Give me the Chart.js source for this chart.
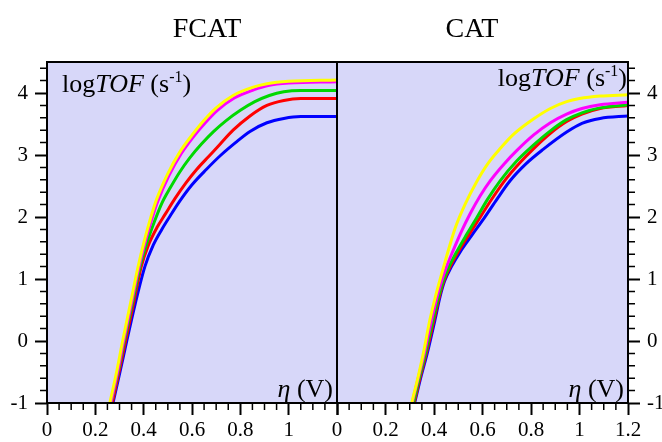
<!DOCTYPE html>
<html>
<head>
<meta charset="utf-8">
<script src="https://cdn.jsdelivr.net/npm/chart.js@4"></script>
<style>
  html, body { margin: 0; padding: 0; background: #fff; }
  #wrap { position: relative; width: 662px; height: 442px; overflow: hidden; }
  canvas { position: absolute; top: 0; }
</style>
</head>
<body>
<div id="wrap">
  <canvas id="fcat" width="380" height="442" style="left:0px"></canvas>
  <canvas id="cat" width="372" height="442" style="left:290px"></canvas>
</div>
<script>
// eta (V) vs log TOF (s^-1)
const fcatYellow  = [[0.26,-1],[0.288,-0.5],[0.313,0],[0.345,0.6],[0.377,1.2],[0.405,1.65],[0.43,2.0],[0.453,2.28],[0.50,2.7],[0.55,3.05],[0.60,3.32],[0.65,3.56],[0.70,3.76],[0.77,3.96],[0.85,4.09],[0.91,4.15],[1.0,4.19],[1.2,4.21]];
const fcatMagenta = [[0.264,-1],[0.292,-0.5],[0.317,0],[0.349,0.6],[0.381,1.2],[0.409,1.63],[0.435,1.98],[0.458,2.25],[0.505,2.67],[0.555,3.02],[0.605,3.29],[0.655,3.52],[0.705,3.72],[0.775,3.92],[0.855,4.05],[0.915,4.12],[1.0,4.16],[1.2,4.18]];
const fcatGreen   = [[0.265,-1],[0.294,-0.5],[0.32,0],[0.353,0.6],[0.385,1.2],[0.415,1.6],[0.445,1.93],[0.475,2.22],[0.51,2.47],[0.55,2.73],[0.59,2.95],[0.64,3.18],[0.69,3.38],[0.74,3.55],[0.80,3.72],[0.86,3.86],[0.92,3.96],[0.98,4.02],[1.05,4.04],[1.2,4.04]];
const fcatRed     = [[0.27,-1],[0.298,-0.5],[0.325,0],[0.358,0.6],[0.39,1.2],[0.42,1.55],[0.455,1.83],[0.49,2.05],[0.53,2.3],[0.575,2.55],[0.62,2.77],[0.67,2.98],[0.715,3.17],[0.77,3.4],[0.84,3.63],[0.91,3.8],[0.98,3.88],[1.05,3.91],[1.2,3.91]];
const fcatBlue    = [[0.273,-1],[0.302,-0.5],[0.33,0],[0.365,0.6],[0.405,1.2],[0.44,1.55],[0.475,1.8],[0.51,2.02],[0.55,2.26],[0.60,2.52],[0.66,2.77],[0.72,3.0],[0.78,3.2],[0.84,3.38],[0.91,3.52],[0.98,3.59],[1.05,3.62],[1.2,3.62]];

const catYellow  = [[0.308,-1],[0.335,-0.57],[0.356,-0.2],[0.383,0.34],[0.405,0.7],[0.422,0.95],[0.44,1.2],[0.462,1.5],[0.49,1.85],[0.53,2.22],[0.576,2.57],[0.62,2.85],[0.672,3.1],[0.73,3.34],[0.81,3.58],[0.88,3.75],[0.947,3.86],[1.0,3.91],[1.085,3.95],[1.2,3.97]];
const catMagenta = [[0.31,-1],[0.338,-0.55],[0.36,-0.2],[0.39,0.34],[0.412,0.7],[0.43,0.95],[0.452,1.2],[0.478,1.45],[0.51,1.74],[0.55,2.06],[0.59,2.34],[0.631,2.58],[0.69,2.86],[0.741,3.07],[0.81,3.32],[0.88,3.52],[0.947,3.66],[1.01,3.75],[1.085,3.81],[1.2,3.85]];
const catGreen   = [[0.315,-1],[0.342,-0.55],[0.365,-0.2],[0.396,0.34],[0.418,0.7],[0.438,0.97],[0.462,1.2],[0.495,1.45],[0.535,1.72],[0.575,1.98],[0.62,2.28],[0.672,2.58],[0.74,2.9],[0.81,3.16],[0.88,3.39],[0.947,3.57],[1.01,3.68],[1.085,3.76],[1.2,3.81]];
const catRed     = [[0.318,-1],[0.345,-0.55],[0.368,-0.2],[0.4,0.34],[0.421,0.7],[0.441,0.97],[0.467,1.2],[0.502,1.45],[0.545,1.72],[0.588,1.98],[0.635,2.27],[0.69,2.58],[0.755,2.88],[0.81,3.1],[0.88,3.35],[0.947,3.54],[1.01,3.66],[1.085,3.75],[1.2,3.8]];
const catBlue    = [[0.32,-1],[0.348,-0.55],[0.372,-0.2],[0.404,0.34],[0.424,0.7],[0.444,0.97],[0.472,1.2],[0.51,1.45],[0.555,1.7],[0.603,1.96],[0.655,2.26],[0.713,2.58],[0.78,2.86],[0.85,3.09],[0.947,3.37],[1.01,3.51],[1.085,3.59],[1.2,3.63]];

const xTicks = [0, 0.2, 0.4, 0.6, 0.8, 1, 1.2];
const yTicks = [-1, 0, 1, 2, 3, 4];

const seriesColors = ['#ffff00', '#ff00ff', '#00d800', '#ff0000', '#0000ff'];
const SERIF = '"Liberation Serif", "Times New Roman", serif';

function toPts(arr) {
  return arr.map(p => ({ x: p[0], y: p[1] }));
}

function drawRich(ctx, parts, x, baseline, align, size) {
  const fontFor = p => (p.italic ? 'italic ' : '') + Math.round(p.sup ? size * 0.62 : size) + 'px ' + SERIF;
  let w = 0;
  parts.forEach(p => { ctx.font = fontFor(p); w += ctx.measureText(p.t).width; });
  let cx = align === 'right' ? x - w : x;
  ctx.textAlign = 'left';
  ctx.textBaseline = 'alphabetic';
  parts.forEach(p => {
    ctx.font = fontFor(p);
    ctx.fillText(p.t, cx, p.sup ? baseline - size * 0.4 : baseline);
    cx += ctx.measureText(p.t).width;
  });
}

const tofText = [{ t: 'log' }, { t: 'TOF', italic: true }, { t: ' (s' }, { t: '-1', sup: true }, { t: ')' }];
const etaText = [{ t: 'η', italic: true }, { t: ' (V)' }];

// lavender panel, frame, minor ticks and the labels inside
const panelDecor = {
  id: 'panelDecor',
  beforeDraw(chart, args, o) {
    const { ctx, chartArea: a } = chart;
    ctx.save();
    ctx.fillStyle = '#d7d7f9';
    ctx.fillRect(a.left, a.top, a.right - a.left, a.bottom - a.top);
    ctx.restore();
  },
  afterDraw(chart, args, o) {
    const { ctx, chartArea: a } = chart;
    const x = chart.scales.x, y = chart.scales.y;
    ctx.save();
    ctx.strokeStyle = '#000';
    ctx.lineWidth = 2;
    ctx.strokeRect(a.left, a.top, a.right - a.left, a.bottom - a.top);

    ctx.lineWidth = 1.5;
    ctx.beginPath();
    for (let i = 0; i <= 24; i++) {
      if (i % 4 === 0) continue;
      const px = x.getPixelForValue(i * 0.05);
      ctx.moveTo(px, a.bottom);
      ctx.lineTo(px, a.bottom + 7);
    }
    for (let i = -5; i <= 22; i++) {
      if (i % 5 === 0) continue;
      const py = y.getPixelForValue(i * 0.2);
      if (o.yRight) { ctx.moveTo(a.right, py); ctx.lineTo(a.right + 7, py); }
      else { ctx.moveTo(a.left - 7, py); ctx.lineTo(a.left, py); }
    }
    ctx.stroke();

    ctx.fillStyle = '#000';
    ctx.font = '28px ' + SERIF;
    ctx.textAlign = 'center';
    ctx.textBaseline = 'alphabetic';
    ctx.fillText(o.title, a.left + o.titleDx, 37);

    if (o.yRight) {
      drawRich(ctx, tofText, a.right - 1, 86, 'right', 26);
    } else {
      drawRich(ctx, tofText, a.left + 15, 92, 'left', 26);
    }
    drawRich(ctx, etaText, a.right - 4, 397, 'right', 26);
    ctx.restore();
  }
};

function makeChart(id, series, opts) {
  const fmt = v => String(Math.round(v * 10) / 10);
  return new Chart(document.getElementById(id), {
    type: 'scatter',
    data: {
      datasets: series.map((s, i) => ({
        data: toPts(s),
        showLine: true,
        borderColor: seriesColors[i],
        backgroundColor: seriesColors[i],
        borderWidth: 3,
        pointRadius: 0,
        cubicInterpolationMode: 'monotone'
      }))
    },
    options: {
      responsive: false,
      animation: false,
      events: [],
      layout: { padding: opts.padding },
      plugins: {
        legend: { display: false },
        tooltip: { enabled: false },
        panelDecor: opts.decor
      },
      scales: {
        x: {
          type: 'linear',
          min: 0,
          max: 1.2,
          afterBuildTicks: s => { s.ticks = xTicks.map(v => ({ value: v })); },
          afterFit: s => { s.height = 39; },
          border: { display: false },
          grid: { drawOnChartArea: false, drawTicks: true, tickLength: 12, tickColor: '#000', tickWidth: 2 },
          ticks: {
            autoSkip: false,
            maxRotation: 0,
            padding: 3,
            color: '#000',
            font: { family: SERIF, size: 21 },
            callback: v => (opts.hideLastX && v === 1.2) ? '' : fmt(v)
          }
        },
        y: {
          type: 'linear',
          position: opts.yPos,
          min: -1,
          max: 4.5,
          afterBuildTicks: s => { s.ticks = yTicks.map(v => ({ value: v })); },
          afterFit: s => { s.width = opts.yWidth; },
          border: { display: false },
          grid: { drawOnChartArea: false, drawTicks: true, tickLength: 12, tickColor: '#000', tickWidth: 2 },
          ticks: {
            padding: 7,
            color: '#000',
            font: { family: SERIF, size: 21 },
            callback: v => fmt(v)
          }
        }
      }
    },
    plugins: [panelDecor]
  });
}

makeChart('fcat', [fcatYellow, fcatMagenta, fcatGreen, fcatRed, fcatBlue], {
  padding: { top: 62, right: 43, bottom: 0, left: 0 },
  yPos: 'left',
  yWidth: 47,
  hideLastX: true,
  decor: { title: 'FCAT', titleDx: 160, yRight: false }
});

makeChart('cat', [catYellow, catMagenta, catGreen, catRed, catBlue], {
  padding: { top: 62, right: 0, bottom: 0, left: 47 },
  yPos: 'right',
  yWidth: 34,
  hideLastX: false,
  decor: { title: 'CAT', titleDx: 135, yRight: true }
});
</script>
</body>
</html>
